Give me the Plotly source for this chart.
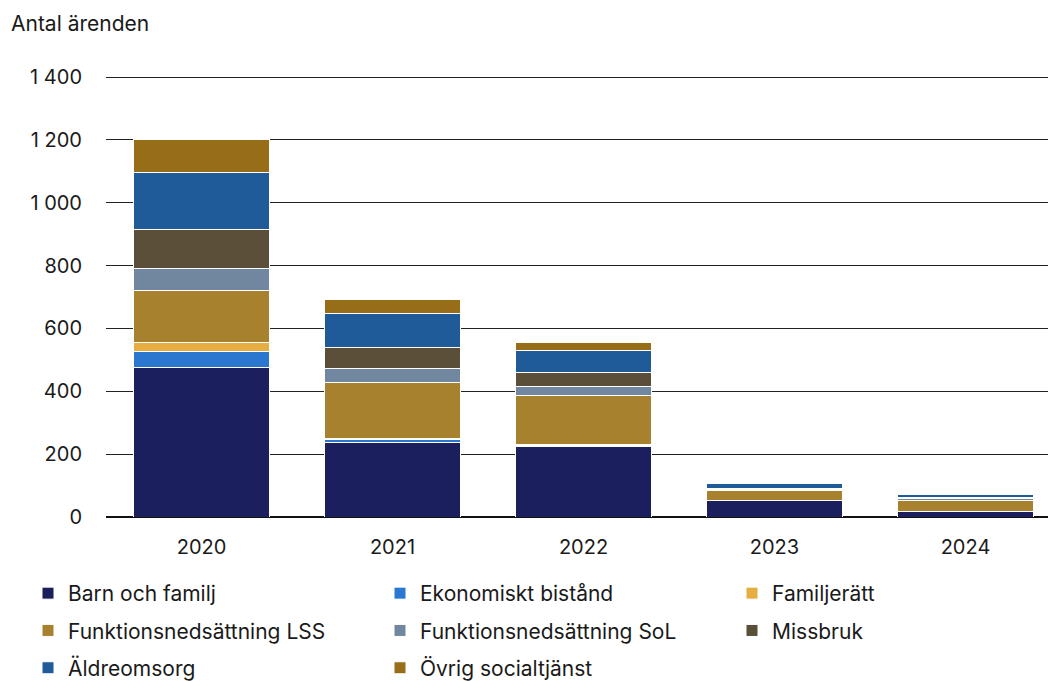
import plotly.graph_objects as go

years = ["2020", "2021", "2022", "2023", "2024"]
series_names = ["Barn och familj", "Ekonomiskt bistånd", "Familjerätt",
                "Funktionsnedsättning LSS", "Funktionsnedsättning SoL", "Missbruk",
                "Äldreomsorg", "Övrig socialtjänst"]
barn = [477, 236, 224, 51, 17]
ekonomiskt = [51, 12, 3, 1, 1]
familjeratt = [26, 2, 3, 1, 1]
lss = [166, 178, 158, 31, 32]
sol = [70, 46, 26, 4, 7]
missbruk = [125, 65, 45, 3, 5]
aldre = [182, 110, 72, 17, 9]
ovrig = [103, 44, 26, 3, 4]
colors = ["#1b1f5e", "#2b77d0", "#e6ad40", "#a8812e", "#71879f", "#5c4f39", "#1f5a99", "#976d18"]
legend_ids = ["legend", "legend2", "legend3", "legend", "legend2", "legend3", "legend", "legend2"]

values = [barn, ekonomiskt, familjeratt, lss, sol, missbruk, aldre, ovrig]
FONT = "Inter"
TXT = "#1a1a1a"

fig = go.Figure()
for name, vals, col, lg in zip(series_names, values, colors, legend_ids):
    fig.add_trace(go.Bar(x=years, y=vals, name=name, marker_color=col,
                         marker_line_color="white", marker_line_width=1,
                         legend=lg, legendgroup=name))

YMAX = 1410
L, W, B, T = 106, 942, 517, 74
H = B - T
def px_x(p):
    return (p - L) / W
def px_y(p):
    return (B - p) / H

leg_common = dict(orientation="v", traceorder="grouped", tracegroupgap=7,
                  xanchor="left", yanchor="top", font=dict(size=21, color=TXT, family=FONT),
                  bgcolor="rgba(0,0,0,0)", itemclick=False)
fig.update_layout(
    width=1048, height=681,
    margin=dict(l=L, r=0, t=T, b=681 - B, autoexpand=False),
    barmode="stack", bargap=0.293,
    plot_bgcolor="white", paper_bgcolor="white",
    font=dict(family=FONT, size=20, color=TXT),
    separators=", ",
    legend=dict(x=px_x(28), y=px_y(573), **leg_common),
    legend2=dict(x=px_x(380), y=px_y(573), **leg_common),
    legend3=dict(x=px_x(732), y=px_y(573), **leg_common),
    xaxis=dict(range=[-0.5, 4.432], showgrid=False, ticks="", showline=False,
               tickfont=dict(size=20, color=TXT), ticklabelstandoff=16),
    yaxis=dict(range=[0, YMAX], tickvals=[0, 200, 400, 600, 800, 1000, 1200, 1400],
               tickformat=",d", showgrid=True, gridcolor="#222222", gridwidth=1,
               zeroline=True, zerolinecolor="#111111", zerolinewidth=1.5,
               showline=False, ticks="", tickfont=dict(size=20, color=TXT),
               ticklabelstandoff=23),
    annotations=[dict(text="Antal ärenden", x=px_x(9), y=px_y(24), xref="paper", yref="paper",
                      xanchor="left", yanchor="middle", showarrow=False,
                      font=dict(size=21, color=TXT, family=FONT))],
)
fig.write_html("out.html", config={"displayModeBar": False},
               post_script="document.body.style.margin='0';document.body.style.overflow='hidden';")
